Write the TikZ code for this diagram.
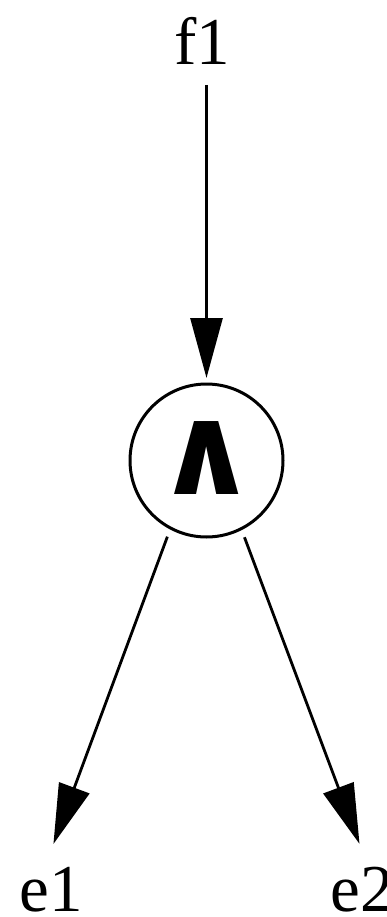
\documentclass[tikz,border=0pt]{standalone}
\usepackage{fontspec}
\setmainfont{Liberation Serif}
\newfontfamily\symfont{DejaVu Sans}
\usetikzlibrary{arrows.meta}
\begin{document}
\begin{tikzpicture}[x=1pt,y=-1pt,
  lbl/.style={font=\fontsize{67}{67}\selectfont, inner sep=0pt, outer sep=0pt, anchor=base},
  gate/.style={circle, draw, line width=3pt, minimum size=153pt, inner sep=0pt, outer sep=0pt, font=\symfont\bfseries\fontsize{126}{126}\selectfont},
  arr/.style={line width=2.8pt, -{Triangle[length=60pt,width=32pt]}}]
\useasboundingbox (0,0) rectangle (386,917);
\node[lbl] (f1) at (202.5,65) {f1};
\node[gate] (and) at (206.5,460.5) {\raisebox{5pt}{∧}};
\node[lbl] (e1) at (51,911) {e1};
\node[lbl] (e2) at (362,911) {e2};
\draw[arr, shorten <=20pt, shorten >=6pt] (f1.south -| and.north) -- (and.north);
\draw[arr, shorten <=9.2pt, shorten >=24.3pt] (and.242.5) -- (e1.105);
\draw[arr, shorten <=9.2pt, shorten >=24.3pt] (and.297.5) -- (e2.75);
\end{tikzpicture}
\end{document}
